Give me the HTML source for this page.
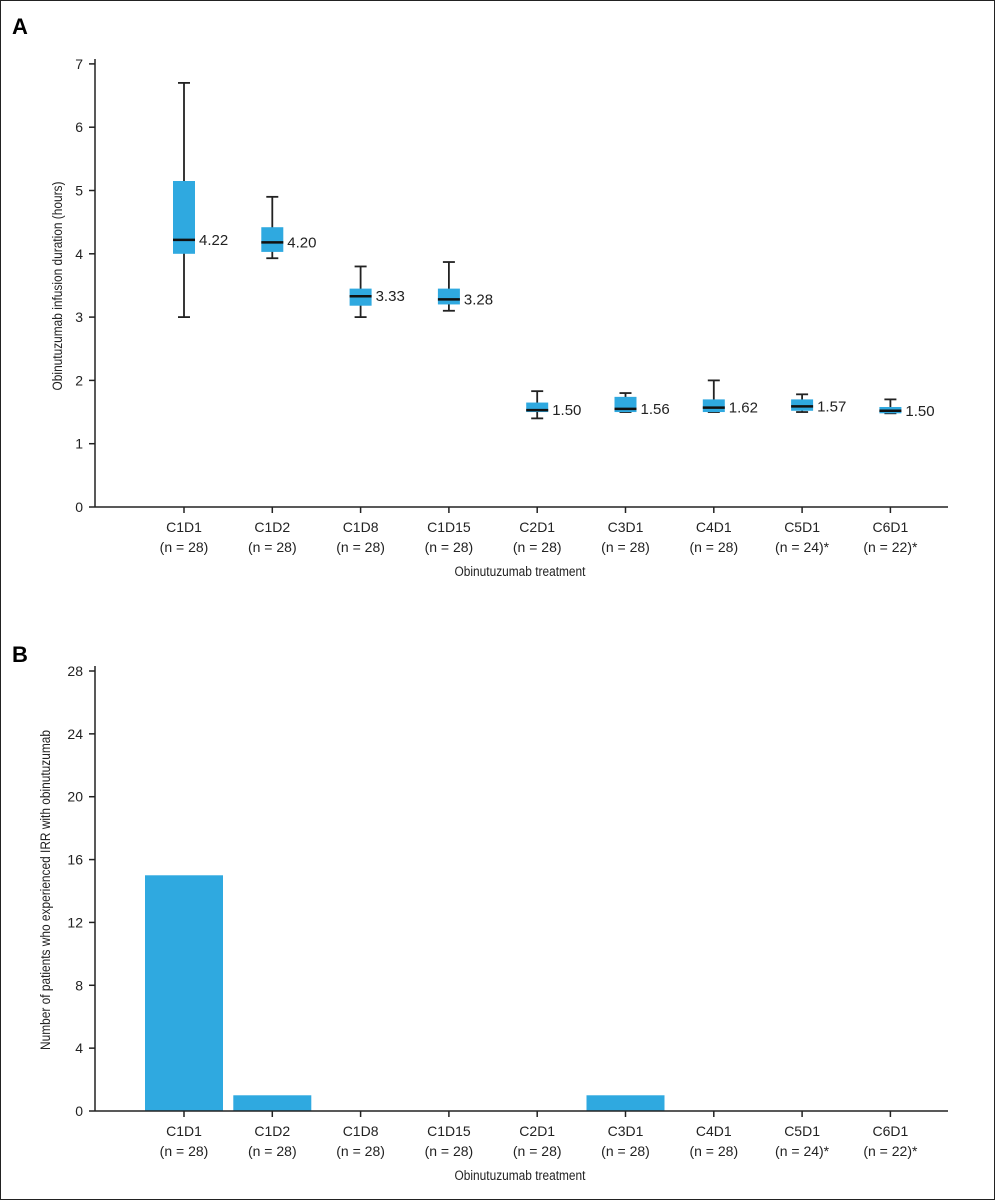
<!DOCTYPE html>
<html><head><meta charset="utf-8"><style>
body{margin:0;background:#fff;}
svg{display:block;font-family:"Liberation Sans",sans-serif;}
</style></head><body>
<svg id="c" width="995" height="1200">
<rect x="0.5" y="0.5" width="994" height="1199" fill="none" stroke="#222"/>
<text x="12" y="34" font-size="22" font-weight="bold">A</text>
<text x="12" y="662" font-size="22" font-weight="bold">B</text>
<g id="ga"></g>
<g id="gb"></g>
</svg>
<script>
const categories=["C1D1","C1D2","C1D8","C1D15","C2D1","C3D1","C4D1","C5D1","C6D1"];
const nLabels=["(n = 28)","(n = 28)","(n = 28)","(n = 28)","(n = 28)","(n = 28)","(n = 28)","(n = 24)*","(n = 22)*"];
const whiskerLow=[3.0,3.93,3.0,3.1,1.4,1.5,1.5,1.5,1.48];
const q1=[4.0,4.03,3.18,3.2,1.5,1.5,1.5,1.52,1.48];
const medians=[4.22,4.18,3.33,3.28,1.53,1.55,1.57,1.59,1.52];
const q3=[5.15,4.42,3.45,3.45,1.65,1.74,1.7,1.7,1.58];
const whiskerHigh=[6.7,4.9,3.8,3.87,1.83,1.8,2.0,1.78,1.7];
const medianLabels=["4.22","4.20","3.33","3.28","1.50","1.56","1.62","1.57","1.50"];
const ticksA=[0,1,2,3,4,5,6,7];
const irrCounts=[15,1,0,0,0,1,0,0,0];
const ticksB=[0,4,8,12,16,20,24,28];

const NS="http://www.w3.org/2000/svg";
function mk(parent,tag,attrs,text){const e=document.createElementNS(NS,tag);for(const k in attrs)e.setAttribute(k,attrs[k]);if(text!=null)e.textContent=text;parent.appendChild(e);return e;}
const xc=i=>184+i*88.3;
const yA=v=>507-v*63.3;
const yB=v=>1111-v*(440/28);
const blue="#2fa9e0";

function axes(g,y0,yTop,yf,ticks,ytitle,titleY,xtitleY){
  let a=mk(g,'line',{x1:95,y1:yTop-5,x2:95,y2:y0,stroke:'#222','stroke-width':1.5});
  
  a=mk(g,'line',{x1:95,y1:y0,x2:948,y2:y0,stroke:'#222','stroke-width':1.5});
  
  ticks.forEach(t=>{
    const l=mk(g,'line',{x1:89,y1:yf(t),x2:95,y2:yf(t),stroke:'#222','stroke-width':1.5});
    
    const tx=mk(g,'text',{x:83,y:yf(t)+5,'font-size':14,'text-anchor':'end',fill:'#222'},String(t));
    
  });
  categories.forEach((c,i)=>{
    const l=mk(g,'line',{x1:xc(i),y1:y0,x2:xc(i),y2:y0+6,stroke:'#222','stroke-width':1.5});
    
    const t1=mk(g,'text',{x:xc(i),y:y0+25,'font-size':14,'text-anchor':'middle',fill:'#222'},c);
    
    const t2=mk(g,'text',{x:xc(i),y:y0+45,'font-size':14,'text-anchor':'middle',fill:'#222'},nLabels[i]);
    
  });
  const xt=mk(g,'text',{x:520,y:xtitleY,'font-size':14,'text-anchor':'middle',fill:'#222',transform:`translate(520 ${xtitleY}) scale(0.85 1) translate(-520 ${-xtitleY})`},'Obinutuzumab treatment');
  
  const yt=mk(g,'text',{x:0,y:0,'font-size':14,'text-anchor':'middle',fill:'#222',transform:`translate(${titleY.x} ${titleY.y}) rotate(-90) scale(0.85 1)`},ytitle);
  
}
const ga=document.getElementById('ga');
axes(ga,507,64,yA,ticksA,'Obinutuzumab infusion duration (hours)',{x:62,y:286},576);
categories.forEach((c,i)=>{
  const x=xc(i),w=22;
  const g=mk(ga,'g',{});
  
  mk(g,'line',{x1:x,y1:yA(whiskerLow[i]),x2:x,y2:yA(whiskerHigh[i]),stroke:'#222','stroke-width':1.8});
  mk(g,'line',{x1:x-6,y1:yA(whiskerHigh[i]),x2:x+6,y2:yA(whiskerHigh[i]),stroke:'#222','stroke-width':1.8});
  mk(g,'line',{x1:x-6,y1:yA(whiskerLow[i]),x2:x+6,y2:yA(whiskerLow[i]),stroke:'#222','stroke-width':1.8});
  mk(g,'rect',{x:x-w/2,y:yA(q3[i]),width:w,height:yA(q1[i])-yA(q3[i]),fill:blue});
  mk(g,'line',{x1:x-w/2,y1:yA(medians[i]),x2:x+w/2,y2:yA(medians[i]),stroke:'#111','stroke-width':2.5});
  const t=mk(ga,'text',{x:x+w/2+4,y:yA(medians[i])+5,'font-size':15,fill:'#222'},medianLabels[i]);
  
});
const gb=document.getElementById('gb');
categories.forEach((c,i)=>{
  if(irrCounts[i]<=0)return;
  const r=mk(gb,'rect',{x:xc(i)-39,y:yB(irrCounts[i]),width:78,height:yB(0)-yB(irrCounts[i]),fill:blue});
  
});
axes(gb,1111,671,yB,ticksB,'Number of patients who experienced IRR with obinutuzumab',{x:50,y:890},1180);
</script>
</body></html>
